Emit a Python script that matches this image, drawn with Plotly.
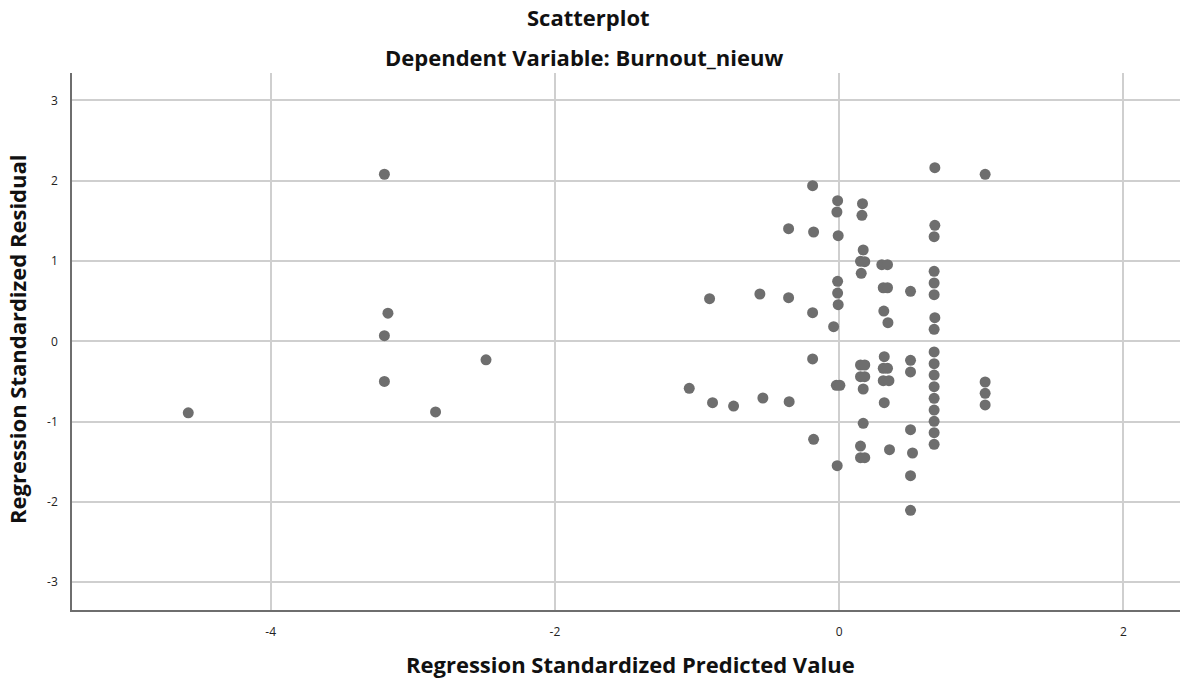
import plotly.graph_objects as go

# Regression Standardized Predicted Value
x_pred = [
    -4.58, -3.20, -3.175, -3.20, -3.20, -2.84, -2.485,
    -1.055, -0.912, -0.891, -0.743, -0.558, -0.537,
    -0.356, -0.356, -0.352,
    -0.187, -0.180, -0.187, -0.187, -0.180,
    -0.011, -0.016, -0.007, -0.011, -0.011, -0.007, -0.039, -0.02, 0.005, -0.014,
    0.164, 0.160, 0.169, 0.15, 0.18, 0.155, 0.15, 0.18, 0.15, 0.18, 0.169, 0.169, 0.150, 0.15, 0.18,
    0.30, 0.34, 0.31, 0.34, 0.314, 0.343, 0.317, 0.31, 0.34, 0.31, 0.35, 0.317, 0.354,
    0.502, 0.502, 0.502, 0.502, 0.516, 0.502, 0.502,
    0.673, 0.673, 0.668, 0.668, 0.668, 0.668, 0.673, 0.668,
    0.668, 0.668, 0.668, 0.668, 0.668, 0.668, 0.668, 0.668, 0.668,
    1.027, 1.027, 1.027, 1.027,
]

# Regression Standardized Residual
y_resid = [
    -0.89, 2.08, 0.35, 0.07, -0.50, -0.88, -0.23,
    -0.585, 0.531, -0.764, -0.806, 0.589, -0.706,
    1.402, 0.543, -0.752,
    1.938, 1.361, 0.356, -0.220, -1.220,
    1.751, 1.610, 1.315, 0.747, 0.601, 0.456, 0.182, -0.548, -0.548, -1.549,
    1.714, 1.569, 1.137, 0.996, 0.991, 0.847, -0.295, -0.295, -0.440, -0.440, -0.594, -1.021, -1.304, -1.449, -1.449,
    0.954, 0.954, 0.667, 0.667, 0.377, 0.232, -0.191, -0.337, -0.337, -0.491, -0.491, -0.764, -1.350,
    0.622, -0.237, -0.382, -1.101, -1.391, -1.673, -2.105,
    2.162, 1.444, 1.303, 0.872, 0.726, 0.581, 0.294, 0.149,
    -0.133, -0.279, -0.420, -0.565, -0.710, -0.856, -0.996, -1.138, -1.283,
    2.079, -0.507, -0.648, -0.793,
]

x_ticks = [-4, -2, 0, 2]
y_ticks = [-3, -2, -1, 0, 1, 2, 3]

FONT = "Open Sans"
W, H = 1180, 680
pl, pr, pt, pb = 72, 1180, 73, 610
pw, ph = pr - pl, pb - pt

fig = go.Figure()
fig.add_trace(go.Scatter(
    x=x_pred, y=y_resid, mode="markers",
    marker=dict(size=11, color="#6e6e6e", line=dict(width=0)),
    hoverinfo="x+y", showlegend=False,
))

grid = "#cfcfcf"


def ann(text, px, py, angle=0):
    return dict(text=f"<b>{text}</b>", x=(px - pl) / pw, y=(pb - py) / ph,
                xref="paper", yref="paper", xanchor="center", yanchor="middle",
                showarrow=False, textangle=angle,
                font=dict(size=22, family=FONT, color="#111111"))


fig.update_layout(
    width=W, height=H,
    margin=dict(l=pl, r=W - pr, t=pt, b=H - pb),
    paper_bgcolor="white", plot_bgcolor="white",
    font=dict(family=FONT, size=12, color="#222222"),
    xaxis=dict(
        range=[-5.398, 2.398], tickvals=x_ticks, ticktext=[str(v) for v in x_ticks],
        showgrid=True, gridcolor=grid, gridwidth=1.5, zeroline=False,
        showline=True, linecolor="#6e6e6e", linewidth=1.5,
        ticks="", ticklabelstandoff=10, tickfont=dict(size=12, family=FONT, color="#222222"),
    ),
    yaxis=dict(
        range=[-3.346, 3.341], tickvals=y_ticks, ticktext=[str(v) for v in y_ticks],
        showgrid=True, gridcolor=grid, gridwidth=1.5, zeroline=False,
        showline=True, linecolor="#6e6e6e", linewidth=1.5,
        ticks="", ticklabelstandoff=10, tickfont=dict(size=12, family=FONT, color="#222222"),
    ),
    annotations=[
        ann("Scatterplot", 588, 17),
        ann("Dependent Variable: Burnout_nieuw", 584, 57),
        ann("Regression Standardized Predicted Value", 630, 664),
        ann("Regression Standardized Residual", 17, 339, -90),
    ],
)

fig.write_html(
    "out.html",
    config={"displayModeBar": False},
    post_script="document.body.style.margin='0';document.body.style.overflow='hidden';",
)
